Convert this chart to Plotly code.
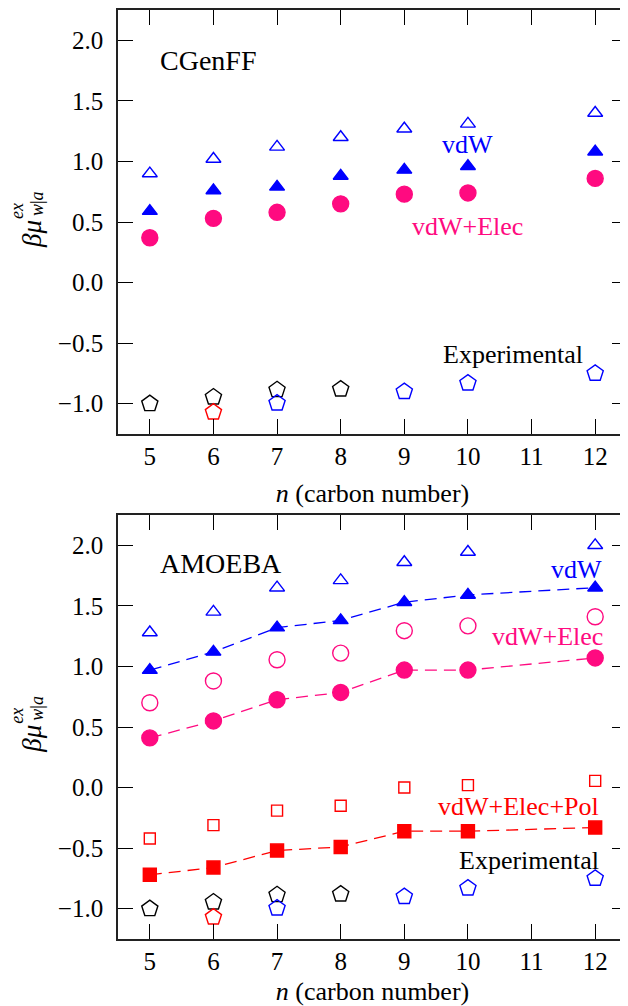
import plotly.graph_objects as go

# ---------------- data ----------------
n = [5, 6, 7, 8, 9, 10, 12]

# CGenFF panel
cg_vdw_open = [0.90, 1.02, 1.12, 1.20, 1.27, 1.31, 1.40]
cg_vdw_filled = [0.59, 0.76, 0.79, 0.88, 0.93, 0.96, 1.08]
cg_elec_filled = [0.37, 0.53, 0.58, 0.65, 0.73, 0.74, 0.86]

# AMOEBA panel
am_vdw_open = [1.28, 1.45, 1.65, 1.71, 1.86, 1.945, 2.00]
am_vdw_filled = [0.97, 1.12, 1.32, 1.38, 1.53, 1.59, 1.65]
am_elec_open = [0.70, 0.88, 1.055, 1.11, 1.295, 1.335, 1.41]
am_elec_filled = [0.41, 0.55, 0.725, 0.785, 0.97, 0.97, 1.07]
am_pol_open = [-0.42, -0.31, -0.19, -0.15, 0.0, 0.02, 0.055]
am_pol_filled = [-0.72, -0.66, -0.52, -0.49, -0.36, -0.36, -0.33]

# Experimental (same in both panels)
exp_black_n = [5, 6, 7, 8]
exp_black = [-1.00, -0.945, -0.885, -0.88]
exp_red_n = [6]
exp_red = [-1.07]
exp_blue_n = [7, 9, 10, 12]
exp_blue = [-0.995, -0.90, -0.83, -0.75]

x_ticks = [5, 6, 7, 8, 9, 10, 11, 12]
x_tick_text = ["5", "6", "7", "8", "9", "10", "11", "12"]
y_ticks = [-1.0, -0.5, 0.0, 0.5, 1.0, 1.5, 2.0]
y_tick_text = ["\u22121.0", "\u22120.5", "0.0", "0.5", "1.0", "1.5", "2.0"]

# ---------------- style ----------------
BLUE = "#0000ff"
PINK = "#ff0a80"
RED = "#ff0000"
BLACK = "#000000"
FONT = "Liberation Serif"
OFF = 8                      # default page body margin
W, H = 628 - OFF, 1006 - OFF
L, R, T, B = 118 - OFF, 1, 10 - OFF, 67
DASH = "12px,7px"


def px_to_paper(px, py):
    """page pixel -> paper fraction"""
    return (px - OFF - L) / (W - L - R), (H - B - (py - OFF)) / (H - T - B)


fig = go.Figure()


def add(xs, ys, ax, symbol, color, size, filled=True, line=False):
    fig.add_trace(go.Scatter(
        x=xs, y=ys, xaxis=ax[0], yaxis=ax[1],
        mode="lines+markers" if line else "markers",
        line=dict(color=color, width=1.3, dash=DASH),
        marker=dict(symbol=symbol, size=size, color=color if filled else "rgba(0,0,0,0)",
                    line=dict(color=color, width=1.4)),
        showlegend=False, hoverinfo="skip"))


def add_exp(ax):
    add(exp_black_n, exp_black, ax, "pentagon", BLACK, 17, filled=False)
    add(exp_red_n, exp_red, ax, "pentagon", RED, 17, filled=False)
    add(exp_blue_n, exp_blue, ax, "pentagon", BLUE, 17, filled=False)


top = ("x", "y")
bot = ("x2", "y2")

# top panel
add(n, cg_vdw_open, top, "triangle-up", BLUE, 13, filled=False)
add(n, cg_vdw_filled, top, "triangle-up", BLUE, 13)
add(n, cg_elec_filled, top, "circle", PINK, 16)
add_exp(top)

# bottom panel
add(n, am_vdw_open, bot, "triangle-up", BLUE, 13, filled=False)
add(n, am_vdw_filled, bot, "triangle-up", BLUE, 13, line=True)
add(n, am_elec_open, bot, "circle", PINK, 16, filled=False)
add(n, am_elec_filled, bot, "circle", PINK, 16, line=True)
add(n, am_pol_open, bot, "square", RED, 11, filled=False)
add(n, am_pol_filled, bot, "square", RED, 13, line=True)
add_exp(bot)


def axis_common():
    return dict(
        showline=True, mirror="allticks", linecolor="#222222", linewidth=1.6,
        ticks="inside", ticklen=15, tickwidth=1.3, tickcolor=BLACK,
        showgrid=False, zeroline=False,
        tickfont=dict(family=FONT, size=25, color=BLACK),
    )


def xaxis(anchor):
    d = axis_common()
    d.update(range=[4.5, 12.5], tickmode="array", tickvals=x_ticks, ticktext=x_tick_text,
             domain=[0, 1], anchor=anchor, ticklabelstandoff=-1,
             title=dict(text="<i>n</i> (carbon number)",
                        font=dict(family=FONT, size=26, color=BLACK), standoff=15))
    return d


def yaxis(anchor, dom):
    d = axis_common()
    d.update(range=[-1.25, 2.25], tickmode="array", tickvals=y_ticks, ticktext=y_tick_text,
             domain=dom, anchor=anchor, ticklabelstandoff=8)
    return d


top_dom = [px_to_paper(0, 434)[1], 1.0]
bot_dom = [0.0, px_to_paper(0, 515)[1]]

fig.update_layout(
    template="none",
    width=W, height=H,
    margin=dict(l=L, r=R, t=T, b=B),
    paper_bgcolor="white", plot_bgcolor="white",
    font=dict(family=FONT, color=BLACK, size=25),
    xaxis=xaxis("y"),
    yaxis=yaxis("x", top_dom),
    xaxis2=xaxis("y2"),
    yaxis2=yaxis("x2", bot_dom),
)

ann = []


def label(text, x, y, ax, color, anchor="center", size=26):
    ann.append(dict(text=text, x=x, y=y, xref=ax[0], yref=ax[1], showarrow=False,
                    xanchor=anchor, yanchor="middle",
                    font=dict(family=FONT, size=size, color=color)))


label("CGenFF", 5.126, 1.83, top, BLACK, "left", 28)
label("vdW", 10.0, 1.14, top, BLUE)
label("vdW+Elec", 10.0, 0.465, top, PINK)
label("Experimental", 10.71, -0.595, top, BLACK)

label("AMOEBA", 5.126, 1.85, bot, BLACK, "left", 28)
label("vdW", 12.14, 1.80, bot, BLUE, "right")
label("vdW+Elec", 12.15, 1.25, bot, PINK, "right")
label("vdW+Elec+Pol", 12.09, -0.16, bot, RED, "right")
label("Experimental", 12.09, -0.60, bot, BLACK, "right")

# y-axis titles built from stacked pieces (beta mu with sup/sub)
for dy in (0, 504.7):
    for text, px, py, size in (("<i>βμ</i>", 32, 234 + dy, 27),
                               ("<i>ex</i>", 17, 211 + dy, 18),
                               ("<i>w</i>|<i>a</i>", 37, 204 + dy, 18)):
        xp, yp = px_to_paper(px, py)
        ann.append(dict(text=text, x=xp, y=yp, xref="paper", yref="paper", showarrow=False,
                        xanchor="center", yanchor="middle", textangle=-90,
                        font=dict(family=FONT, size=size, color=BLACK)))

fig.update_layout(annotations=ann)

fig.write_html("out.html")
